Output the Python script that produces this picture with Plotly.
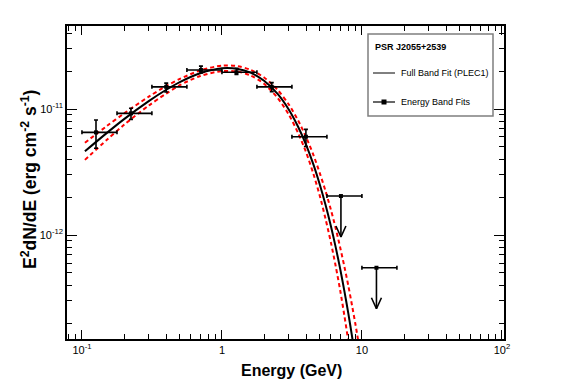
import plotly.graph_objects as go
import math

# ---------------- data ----------------
fit_energy = [0.105, 0.15, 0.2, 0.3, 0.4, 0.5, 0.7, 1.0, 1.3, 1.6, 2.0, 2.5, 3.0,
              3.5, 4.0, 4.5, 5.0, 5.5, 6.0, 6.5, 7.0, 7.5, 8.0, 8.5, 9.0, 9.5]
fit_flux = [4.62e-12, 6.44e-12, 8.32e-12, 1.156e-11, 1.422e-11, 1.637e-11, 1.923e-11,
            2.104e-11, 2.080e-11, 1.945e-11, 1.679e-11, 1.318e-11, 9.93e-12, 7.24e-12,
            5.18e-12, 3.64e-12, 2.52e-12, 1.73e-12, 1.18e-12, 7.98e-13, 5.36e-13,
            3.57e-13, 2.38e-13, 1.57e-13, 1.04e-13, 6.8e-14]
fit_upper = [5.40e-12, 7.31e-12, 9.23e-12, 1.253e-11, 1.524e-11, 1.734e-11, 2.023e-11,
             2.213e-11, 2.188e-11, 2.046e-11, 1.778e-11, 1.418e-11, 1.088e-11, 8.12e-12,
             5.95e-12, 4.33e-12, 3.10e-12, 2.23e-12, 1.59e-12, 1.128e-12, 7.93e-13,
             5.59e-13, 3.95e-13, 2.76e-13, 1.94e-13, 1.36e-13]
fit_lower = [3.95e-12, 5.67e-12, 7.50e-12, 1.066e-11, 1.326e-11, 1.546e-11, 1.828e-11,
             2.000e-11, 1.977e-11, 1.849e-11, 1.585e-11, 1.225e-11, 9.06e-12, 6.45e-12,
             4.51e-12, 3.06e-12, 2.05e-12, 1.34e-12, 8.75e-13, 5.65e-13, 3.62e-13,
             2.28e-13, 1.43e-13, 8.93e-14, 5.59e-14, 3.42e-14]

band_energy = [0.126, 0.224, 0.40, 0.708, 1.27, 2.27, 3.98]
band_flux = [6.53e-12, 9.24e-12, 1.50e-11, 2.04e-11, 1.96e-11, 1.50e-11, 6.03e-12]
band_flux_hi = [8.18e-12, 1.015e-11, 1.607e-11, 2.19e-11, 2.11e-11, 1.62e-11, 6.9e-12]
band_flux_lo = [4.88e-12, 8.28e-12, 1.365e-11, 1.93e-11, 1.88e-11, 1.37e-11, 5.04e-12]
band_bin_lo = [0.1, 0.178, 0.316, 0.562, 1.0, 1.778, 3.162]
band_bin_hi = [0.178, 0.316, 0.562, 1.0, 1.778, 3.162, 5.623]

ul_energy = [7.08, 12.7]
ul_flux = [2.04e-12, 5.5e-13]
ul_bin_lo = [5.623, 10.0]
ul_bin_hi = [10.0, 17.78]

x_major = [0.1, 1, 10, 100]
x_major_text = ["10<sup>-1</sup>", "1", "10", "10<sup>2</sup>"]
y_major = [1e-12, 1e-11]
y_major_text = ["10<sup>-12</sup>", "10<sup>-11</sup>"]

# ---------------- styling ----------------
FONT = "Liberation Sans, Arial, Helvetica, sans-serif"
W, H = 567, 384
ML, MR, MT, MB = 67, 63, 26, 45
PW, PH = W - ML - MR, H - MT - MB
ARROW_DEC = 0.325       # arrow length in decades
HEAD_X = 5 / 140        # arrow head half width (decades of x)
HEAD_Y = 11 / 126       # arrow head height (decades of y)

fig = go.Figure()

# fit band (red dashed) and central fit (black)
for arr in (fit_upper, fit_lower):
    fig.add_trace(go.Scatter(x=fit_energy, y=arr, mode="lines",
                             line=dict(color="#ff0000", width=2, dash="4px,3px",
                                       shape="spline", smoothing=0.8),
                             hoverinfo="skip", showlegend=False))
fig.add_trace(go.Scatter(x=fit_energy, y=fit_flux, mode="lines",
                         line=dict(color="black", width=2, shape="spline", smoothing=0.8),
                         showlegend=False))

# energy band points
fig.add_trace(go.Scatter(
    x=band_energy, y=band_flux, mode="markers",
    marker=dict(symbol="square", size=4, color="black"),
    error_x=dict(type="data", symmetric=False,
                 array=[h - e for h, e in zip(band_bin_hi, band_energy)],
                 arrayminus=[e - l for e, l in zip(band_energy, band_bin_lo)],
                 color="black", thickness=1.6, width=2),
    error_y=dict(type="data", symmetric=False,
                 array=[h - f for h, f in zip(band_flux_hi, band_flux)],
                 arrayminus=[f - l for f, l in zip(band_flux, band_flux_lo)],
                 color="black", thickness=1.6, width=2),
    showlegend=False))

# upper limits
fig.add_trace(go.Scatter(
    x=ul_energy, y=ul_flux, mode="markers",
    marker=dict(symbol="square", size=4, color="black"),
    error_x=dict(type="data", symmetric=False,
                 array=[h - e for h, e in zip(ul_bin_hi, ul_energy)],
                 arrayminus=[e - l for e, l in zip(ul_energy, ul_bin_lo)],
                 color="black", thickness=1.6, width=2),
    showlegend=False))
ax, ay = [], []
for e, f in zip(ul_energy, ul_flux):
    tip = f * 10 ** (-ARROW_DEC)
    ax += [e, e, None, e * 10 ** (-HEAD_X), e, e * 10 ** HEAD_X, None]
    ay += [f, tip, None, tip * 10 ** HEAD_Y, tip, tip * 10 ** HEAD_Y, None]
fig.add_trace(go.Scatter(x=ax, y=ay, mode="lines", line=dict(color="black", width=1.6),
                         showlegend=False, hoverinfo="skip"))

# ---------------- axes ----------------
x_minor = [0.08, 0.09] + [k * 0.1 for k in range(2, 10)] + list(range(2, 10)) + [k * 10 for k in range(2, 10)]
y_minor = [k * 1e-13 for k in range(2, 10)] + [k * 1e-12 for k in range(2, 10)] + [k * 1e-11 for k in range(2, 5)]

axis_common = dict(showline=True, linecolor="black", linewidth=1.5, mirror="allticks",
                   ticks="inside", tickcolor="black", tickwidth=1, showgrid=False,
                   zeroline=False, tickfont=dict(family=FONT, size=11, color="black"))

fig.update_xaxes(type="log", range=[math.log10(0.0782), math.log10(103.5)],
                 tickmode="array", tickvals=x_major, ticktext=x_major_text, ticklen=9,
                 minor=dict(tickmode="array", tickvals=x_minor, ticks="inside", ticklen=5,
                            tickcolor="black", tickwidth=1),
                 **axis_common)
fig.update_yaxes(type="log", range=[-12.825, -10.341],
                 tickmode="array", tickvals=y_major, ticktext=y_major_text, ticklen=10,
                 minor=dict(tickmode="array", tickvals=y_minor, ticks="inside", ticklen=5,
                            tickcolor="black", tickwidth=1),
                 **axis_common)


def px(x):
    return (x - ML) / PW


def py(y):
    return (H - MB - y) / PH


annotations = [
    dict(text="<b>Energy (GeV)</b>", x=px(291), y=py(370), xref="paper", yref="paper",
         showarrow=False, xanchor="center", yanchor="middle",
         font=dict(family=FONT, size=16, color="black")),
    dict(text="<b>E<sup>2</sup>dN/dE (erg cm<sup>-2</sup> s<sup>-1</sup>)</b>",
         x=px(29), y=py(180), xref="paper", yref="paper", textangle=-90,
         showarrow=False, xanchor="center", yanchor="middle",
         font=dict(family=FONT, size=17.5, color="black")),
    dict(text="<b>PSR J2055+2539</b>", x=px(373), y=py(47), xref="paper", yref="paper",
         showarrow=False, xanchor="left", yanchor="middle",
         font=dict(family=FONT, size=9, color="black")),
    dict(text="Full Band Fit (PLEC1)", x=px(399), y=py(73), xref="paper", yref="paper",
         showarrow=False, xanchor="left", yanchor="middle",
         font=dict(family=FONT, size=9, color="black")),
    dict(text="Energy Band Fits", x=px(399), y=py(102), xref="paper", yref="paper",
         showarrow=False, xanchor="left", yanchor="middle",
         font=dict(family=FONT, size=9, color="black")),
]

shapes = [
    dict(type="rect", xref="paper", yref="paper", x0=px(368), x1=px(493), y0=py(116), y1=py(34),
         line=dict(color="#7f7f7f", width=1.5), fillcolor="white", layer="above"),
    dict(type="line", xref="paper", yref="paper", x0=px(373), x1=px(395), y0=py(73), y1=py(73),
         line=dict(color="black", width=1), layer="above"),
    dict(type="line", xref="paper", yref="paper", x0=px(373), x1=px(395), y0=py(102), y1=py(102),
         line=dict(color="black", width=1.2), layer="above"),
    dict(type="rect", xref="paper", yref="paper", x0=px(381.5), x1=px(386.5), y0=py(104.5), y1=py(99.5),
         line=dict(color="black", width=0), fillcolor="black", layer="above"),
]

fig.update_layout(width=W, height=H, margin=dict(l=ML, r=MR, t=MT, b=MB),
                  paper_bgcolor="white", plot_bgcolor="white",
                  annotations=annotations, shapes=shapes, showlegend=False,
                  font=dict(family=FONT, color="black"))

fig.write_html("out.html", config={"displayModeBar": False},
               post_script="document.body.style.margin='0';document.body.style.overflow='hidden';")
